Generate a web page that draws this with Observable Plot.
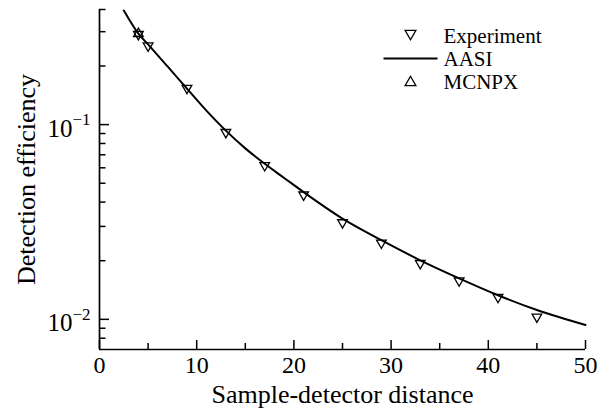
<!DOCTYPE html>
<html><head><meta charset="utf-8">
<script src="https://cdn.jsdelivr.net/npm/d3@7"></script>
<script src="https://cdn.jsdelivr.net/npm/@observablehq/plot@0.6"></script>
<style>body{margin:0;background:#fff}</style>
</head><body><div id="chart"></div>
<script>
// Experiment (down triangles)
const expDistance = [4, 5, 9, 13, 17, 21, 25, 29, 33, 37, 41, 45];
const expEfficiency = [0.291, 0.254, 0.154, 0.0913, 0.0617, 0.0436, 0.0314, 0.0247, 0.0194, 0.0158, 0.0130, 0.0103];
// MCNPX (up triangles)
const mcnpxDistance = [4];
const mcnpxEfficiency = [0.293];
// AASI curve
const aasiDistance = [2.5, 3, 4, 5, 7, 9, 11, 13, 15, 17, 19, 21, 25, 29, 33, 37, 41, 45, 50];
const aasiEfficiency = [0.385, 0.35, 0.293, 0.258, 0.199, 0.153, 0.118, 0.0931, 0.0755, 0.0629, 0.0532, 0.0450, 0.0329, 0.0255, 0.0201, 0.01624, 0.0133, 0.01116, 0.00935];

const xDomain = [0, 50];
const yDomain = [0.007, 0.39];
const xMajor = [0, 10, 20, 30, 40, 50];
const xMinor = [5, 15, 25, 35, 45];
const yMajor = [0.1, 0.01];
const yMajorExp = ["\u22121", "\u22122"];
const yMinor = [0.008, 0.009, 0.02, 0.03, 0.04, 0.05, 0.06, 0.07, 0.08, 0.09, 0.2, 0.3, 0.39];
const legendLabels = ["Experiment", "AASI", "MCNPX"];

const W = 599, H = 415, ML = 99, MR = 14, MT = 9, MB = 66;
const FW = W - ML - MR, FH = H - MT - MB;
const font = "'Liberation Serif', 'Times New Roman', serif";

const triDown = {draw(ctx, size) {
  const y = -Math.sqrt(size / (Math.sqrt(3) * 3));
  ctx.moveTo(0, -2 * y);
  ctx.lineTo(-Math.sqrt(3) * y, y);
  ctx.lineTo(Math.sqrt(3) * y, y);
  ctx.closePath();
}};
const hLine = {draw(ctx) { ctx.moveTo(-27, 0); ctx.lineTo(27, 0); }};

const expData = expDistance.map((d, i) => ({x: d, y: expEfficiency[i]}));
const mcnpxData = mcnpxDistance.map((d, i) => ({x: d, y: mcnpxEfficiency[i]}));
const aasiData = aasiDistance.map((d, i) => ({x: d, y: aasiEfficiency[i]}));

const chart = Plot.plot({
  width: W, height: H,
  marginLeft: ML, marginRight: MR, marginTop: MT, marginBottom: MB,
  style: {fontFamily: font, fontSize: "24px", background: "white", color: "black", overflow: "visible"},
  x: {domain: xDomain, axis: null},
  y: {type: "log", domain: yDomain, axis: null},
  marks: [
    // axis lines
    Plot.ruleX([xDomain[0]], {stroke: "black", strokeWidth: 1.7}),
    Plot.ruleY([yDomain[0]], {stroke: "black", strokeWidth: 1.7}),
    // ticks (inward)
    Plot.tickX(xMajor, {x: d => d, insetTop: FH - 9, stroke: "black", strokeWidth: 1.5}),
    Plot.tickX(xMinor, {x: d => d, insetTop: FH - 6, stroke: "black", strokeWidth: 1.5}),
    Plot.tickY(yMajor, {y: d => d, insetRight: FW - 10, stroke: "black", strokeWidth: 1.5}),
    Plot.tickY(yMinor, {y: d => d, insetRight: FW - 6.5, stroke: "black", strokeWidth: 1.5}),
    // x tick labels
    Plot.text(xMajor, {x: d => d, frameAnchor: "bottom", text: d => String(d), textAnchor: "middle", lineAnchor: "top", dy: 6, fontSize: 24, fill: "black"}),
    // y tick labels
    Plot.text(yMajor, {y: d => d, frameAnchor: "left", text: () => "10", textAnchor: "end", lineAnchor: "middle", dx: -27, dy: 4, fontSize: 25, fill: "black"}),
    Plot.text(yMajor, {y: d => d, frameAnchor: "left", text: (d, i) => yMajorExp[i], textAnchor: "start", lineAnchor: "middle", dx: -27, dy: -5, fontSize: 17, fill: "black"}),
    // axis titles
    Plot.text(["Sample-detector distance"], {frameAnchor: "bottom", text: d => d, textAnchor: "middle", lineAnchor: "middle", dy: 45, fontSize: 26, fill: "black"}),
    Plot.text(["Detection efficiency"], {frameAnchor: "left", text: d => d, rotate: -90, textAnchor: "middle", lineAnchor: "middle", dx: -73, fontSize: 26, fill: "black"}),
    // data
    Plot.line(aasiData, {x: "x", y: "y", stroke: "black", strokeWidth: 2, curve: "monotone-x"}),
    Plot.dot(expData, {x: "x", y: "y", symbol: triDown, r: 3.6, stroke: "black", strokeWidth: 1.3, fill: "none"}),
    Plot.dot(mcnpxData, {x: "x", y: "y", symbol: "triangle", r: 3.6, stroke: "black", strokeWidth: 1.3, fill: "none"}),
    // legend
    Plot.dot([legendLabels[0]], {frameAnchor: "top-left", dx: 410 - ML, dy: 33 - MT, symbol: triDown, r: 4, stroke: "black", strokeWidth: 1.3, fill: "none"}),
    Plot.dot([legendLabels[1]], {frameAnchor: "top-left", dx: 410 - ML, dy: 58 - MT, symbol: hLine, r: 4, stroke: "black", strokeWidth: 1.8, fill: "none"}),
    Plot.dot([legendLabels[2]], {frameAnchor: "top-left", dx: 410 - ML, dy: 82 - MT, symbol: "triangle", r: 4, stroke: "black", strokeWidth: 1.3, fill: "none"}),
    Plot.text([legendLabels[0]], {frameAnchor: "top-left", text: d => d, textAnchor: "start", lineAnchor: "middle", dx: 443 - ML, dy: 35.3 - MT, fontSize: 21, fill: "black"}),
    Plot.text([legendLabels[1]], {frameAnchor: "top-left", text: d => d, textAnchor: "start", lineAnchor: "middle", dx: 443 - ML, dy: 58.3 - MT, fontSize: 21, fill: "black"}),
    Plot.text([legendLabels[2]], {frameAnchor: "top-left", text: d => d, textAnchor: "start", lineAnchor: "middle", dx: 443 - ML, dy: 81.3 - MT, fontSize: 21, fill: "black"})
  ]
});
document.getElementById("chart").appendChild(chart);
</script></body></html>
